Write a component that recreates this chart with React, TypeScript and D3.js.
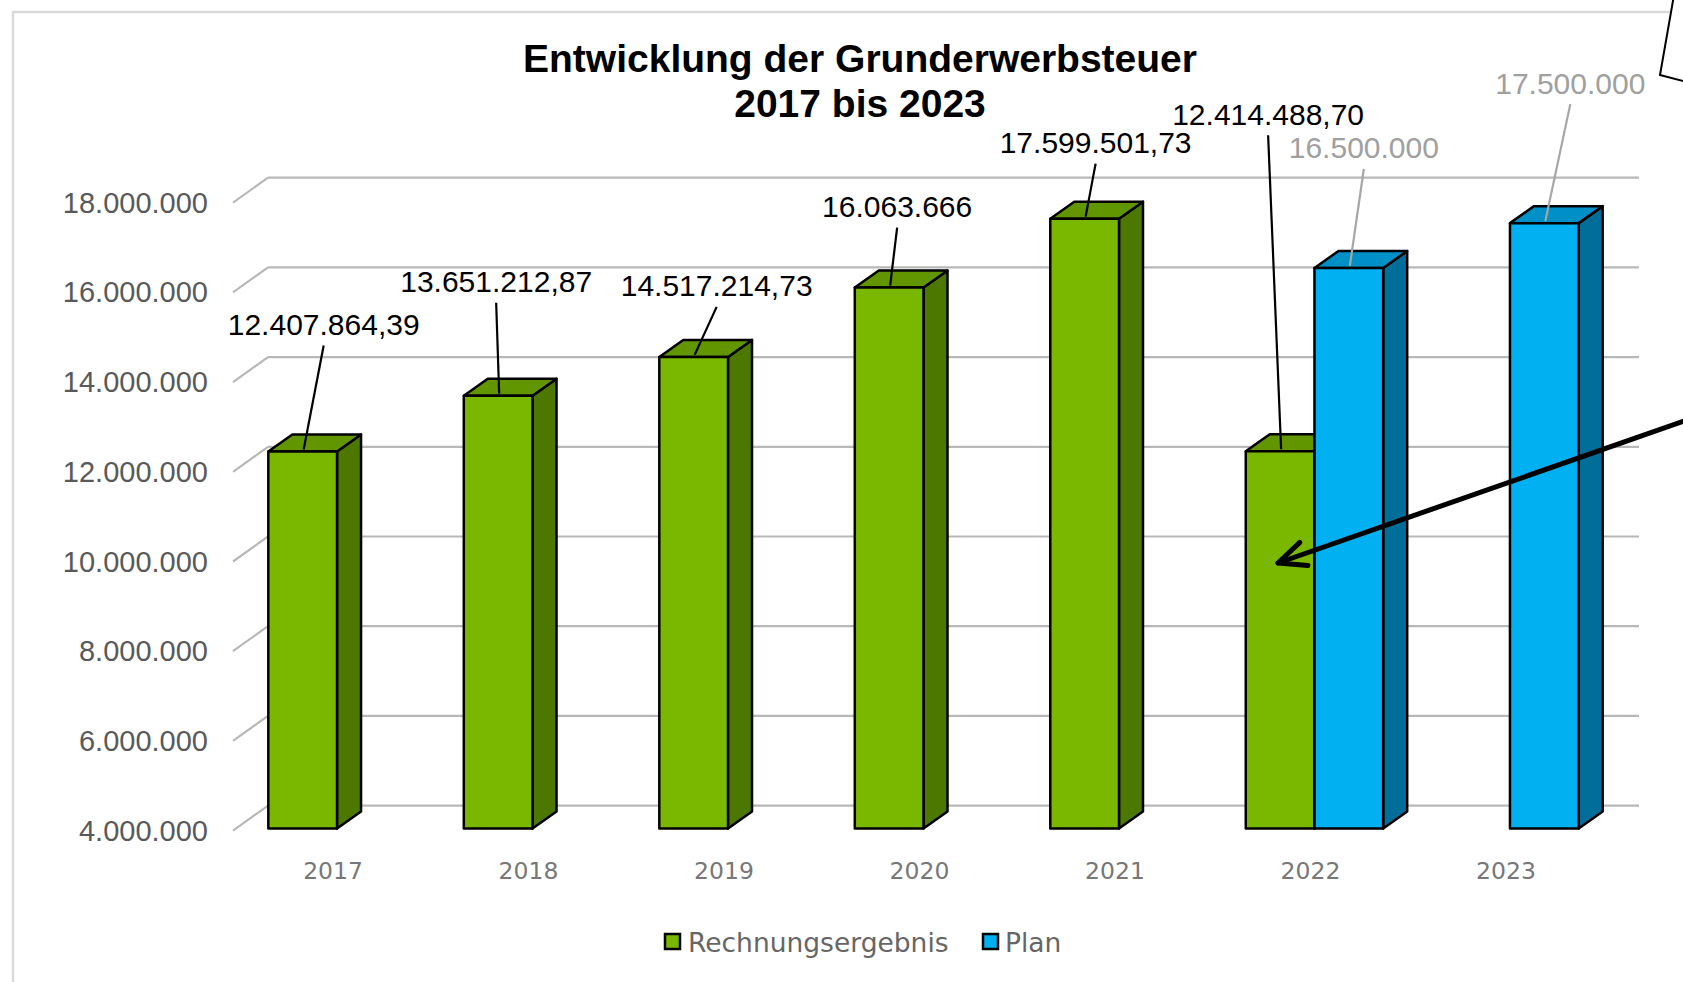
import React from 'react'
import * as d3 from 'd3'

// chart data
const years = ['2017', '2018', '2019', '2020', '2021', '2022', '2023']
const rechnungsergebnis: (number | null)[] = [
  12407864.39, 13651212.87, 14517214.73, 16063666, 17599501.73, 12414488.7, null,
]
const plan: (number | null)[] = [null, null, null, null, null, 16500000, 17500000]
const seriesNames = ['Rechnungsergebnis', 'Plan']

// manual data label placement (offset from bar top, like the hand-moved labels in the original)
const resultLabelOffsets = [[21, -127], [-2, -114], [23, -71], [8, -81], [11, -76], [-12, -337], null]
const planLabelOffsets = [null, null, null, null, null, [15, -120], [26, -140]]

const W = 1683
const H = 982
const DEPTH = { dx: 24, dy: -17 } // bar depth
const WALL = { dx: 35, dy: -23 } // floor depth to back wall

const colors = {
  result: { front: '#7ab800', top: '#629600', side: '#4d7800' },
  plan: { front: '#00b0f0', top: '#0090c8', side: '#006e98' },
}

const de = d3.formatLocale({ decimal: ',', thousands: '.', grouping: [3], currency: ['', ' €'] })
const fmtInt = de.format(',.0f')
const fmtDec = de.format(',.2f')
const fmtVal = (v: number) => (Number.isInteger(v) ? fmtInt(v) : fmtDec(v))

function Bar({ x0, w, yt, yb, c }: any) {
  const { dx, dy } = DEPTH
  const top = [[x0, yt], [x0 + dx, yt + dy], [x0 + w + dx, yt + dy], [x0 + w, yt]]
  const side = [[x0 + w, yt], [x0 + w + dx, yt + dy], [x0 + w + dx, yb + dy], [x0 + w, yb]]
  const pts = (p: number[][]) => p.map((d) => d.join(',')).join(' ')
  return (
    <g stroke="#000" strokeWidth={2.5} strokeLinejoin="round">
      <polygon points={pts(side)} fill={c.side} />
      <polygon points={pts(top)} fill={c.top} />
      <rect x={x0} y={yt} width={w} height={yb - yt} fill={c.front} />
    </g>
  )
}

export default function App() {
  // scales
  const y = d3.scaleLinear().domain([4000000, 18000000]).range([828.6, 200.7])
  const x = d3.scaleBand().domain(years).range([239, 1608]).paddingInner(0.297).paddingOuter(0.15)
  const xs = d3.scaleBand().domain(seriesNames).range([0, x.bandwidth()])
  const yTicks = y.ticks(7)
  const yb = y(4000000)

  const wallLeft = 233 + WALL.dx
  const wallRight = 1639

  const bars: any[] = []
  years.forEach((yr, i) => {
    const r = rechnungsergebnis[i]
    const p = plan[i]
    if (r != null) bars.push({ yr, v: r, s: 'Rechnungsergebnis', c: colors.result, off: resultLabelOffsets[i], labelFill: '#000', lineStroke: '#000' })
    if (p != null) bars.push({ yr, v: p, s: 'Plan', c: colors.plan, off: planLabelOffsets[i], labelFill: '#a0a0a0', lineStroke: '#a6a6a6' })
  })

  // arrow annotation
  const tip = [1278, 563]
  const tail = [1690, 419]
  const ang = Math.atan2(tail[1] - tip[1], tail[0] - tip[0])
  const armLen = 30
  const armA = [tip[0] + armLen * Math.cos(ang - 0.42), tip[1] + armLen * Math.sin(ang - 0.42)]
  const armB = [tip[0] + armLen * Math.cos(ang + 0.42), tip[1] + armLen * Math.sin(ang + 0.42)]

  return (
    <svg
      width={W}
      height={H}
      style={{ position: 'absolute', left: 0, top: 0, background: '#fff' }}
      fontFamily="'Liberation Sans', Arial, sans-serif"
    >
      {/* frame */}
      <rect x={13} y={12} width={W + 20} height={H + 20} fill="#fff" stroke="#d9d9d9" strokeWidth={2.5} />

      {/* title */}
      <text x={860} textAnchor="middle" fontWeight="bold" fontSize={39} fill="#000">
        <tspan x={860} y={72}>Entwicklung der Grunderwerbsteuer</tspan>
        <tspan x={860} y={117}>2017 bis 2023</tspan>
      </text>

      {/* back wall gridlines + axis slant ticks */}
      <g stroke="#b8b8b8" strokeWidth={2.2} fill="none">
        {yTicks.map((t) => (
          <g key={t}>
            <line x1={wallLeft} x2={wallRight} y1={y(t) + WALL.dy} y2={y(t) + WALL.dy} />
            <line x1={233} y1={y(t) + 2} x2={wallLeft} y2={y(t) + WALL.dy} />
          </g>
        ))}
      </g>
      <g fontSize={29} fill="#595959" textAnchor="end">
        {yTicks.map((t) => (
          <text key={t} x={208} y={y(t) + 2} dominantBaseline="central">
            {fmtInt(t)}
          </text>
        ))}
      </g>

      {/* bars */}
      {bars.map((b) => (
        <Bar
          key={b.yr + b.s}
          x0={(x(b.yr) as number) + (xs(b.s) as number)}
          w={xs.bandwidth()}
          yt={y(b.v)}
          yb={yb}
          c={b.c}
        />
      ))}

      {/* category labels */}
      <g fontFamily="'DejaVu Sans', Verdana, sans-serif" fontSize={23.5} fill="#777" textAnchor="middle">
        {years.map((yr) => (
          <text key={yr} x={(x(yr) as number) + x.bandwidth() / 2 - 4} y={871} dominantBaseline="central">
            {yr}
          </text>
        ))}
      </g>

      {/* data labels with leader lines */}
      {bars.map((b) => {
        const cx = (x(b.yr) as number) + (xs(b.s) as number) + xs.bandwidth() / 2
        const cy = y(b.v)
        const lx = cx + b.off[0]
        const ly = cy + b.off[1]
        return (
          <g key={'l' + b.yr + b.s}>
            <line x1={lx} y1={ly + 21} x2={cx + 1} y2={cy - 2} stroke={b.lineStroke} strokeWidth={2.2} />
            <text x={lx} y={ly} textAnchor="middle" dominantBaseline="central" fontSize={30} fill={b.labelFill}>
              {fmtVal(b.v)}
            </text>
          </g>
        )
      })}

      {/* legend */}
      <g fontFamily="'DejaVu Sans', Verdana, sans-serif" fontSize={26.5} fill="#666">
        <rect x={665} y={934} width={15} height={15} fill={colors.result.front} stroke="#000" strokeWidth={2.5} />
        <text x={688} y={942} dominantBaseline="central">{seriesNames[0]}</text>
        <rect x={983} y={934} width={15} height={15} fill={colors.plan.front} stroke="#000" strokeWidth={2.5} />
        <text x={1005} y={942} dominantBaseline="central">{seriesNames[1]}</text>
      </g>

      {/* callout box (top right) */}
      <polygon points="1674,-5 1660,75 1695,84 1695,-5" fill="#fff" stroke="#000" strokeWidth={2} />

      {/* arrow annotation */}
      <g stroke="#000" strokeWidth={5} strokeLinecap="round" strokeLinejoin="round" fill="none">
        <line x1={tail[0]} y1={tail[1]} x2={tip[0]} y2={tip[1]} />
        <polyline points={`${armA.join(',')} ${tip.join(',')} ${armB.join(',')}`} />
      </g>
    </svg>
  )
}
